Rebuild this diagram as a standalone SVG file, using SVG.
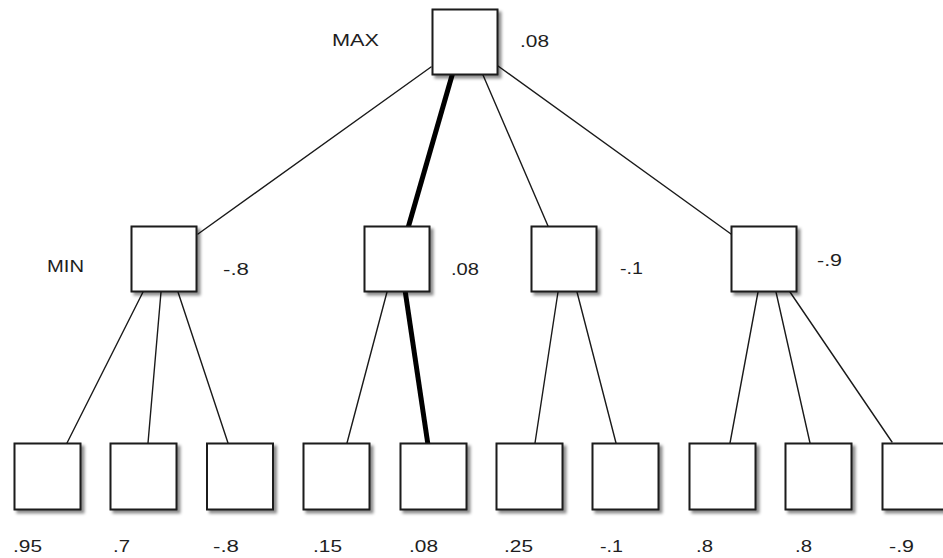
<svg xmlns="http://www.w3.org/2000/svg" width="943" height="558" viewBox="0 0 943 558">
<defs>
<filter id="sh" x="-20%" y="-20%" width="150%" height="150%">
<feDropShadow dx="3" dy="3" stdDeviation="1.8" flood-color="#000" flood-opacity="0.45"/>
</filter>
<style>
.box{fill:#fff;stroke:#1a1a1a;stroke-width:2;filter:url(#sh)}
.e{stroke:#1a1a1a;stroke-width:1.4;fill:none;stroke-linecap:round}
.b{stroke:#000;stroke-width:5;fill:none}
text{font-family:"Liberation Sans",Arial,sans-serif;font-size:17px;fill:#1e1e1e}
</style>
</defs>
<rect width="943" height="558" fill="#fff"/>
<g id="connectors">
<line class="e" x1="431" y1="67" x2="198" y2="234"/>
<line class="b" x1="453" y1="72" x2="408" y2="228"/>
<line class="e" x1="483" y1="75" x2="548" y2="226"/>
<line class="e" x1="498" y1="66" x2="731" y2="234"/>
<line class="e" x1="143" y1="292" x2="67" y2="443"/>
<line class="e" x1="161" y1="292" x2="148" y2="443"/>
<line class="e" x1="178" y1="292" x2="228" y2="443"/>
<line class="e" x1="387" y1="292" x2="347" y2="443"/>
<line class="b" x1="405" y1="290" x2="428" y2="445"/>
<line class="e" x1="558" y1="292" x2="535" y2="443"/>
<line class="e" x1="577" y1="292" x2="616" y2="443"/>
<line class="e" x1="758" y1="292" x2="730" y2="443"/>
<line class="e" x1="776" y1="292" x2="810" y2="443"/>
<line class="e" x1="790" y1="292" x2="892" y2="442"/>
</g>
<g id="root"><rect class="box" x="432.5" y="9.5" width="65" height="65"/></g>
<g id="min1"><rect class="box" x="131.5" y="226.5" width="65" height="65"/></g>
<g id="min2"><rect class="box" x="364.5" y="226.5" width="65" height="65"/></g>
<g id="min3"><rect class="box" x="531.5" y="226.5" width="65" height="65"/></g>
<g id="min4"><rect class="box" x="731.5" y="226.5" width="65" height="65"/></g>
<g id="leaf1"><rect class="box" x="14.5" y="443.5" width="66" height="66"/></g>
<g id="leaf2"><rect class="box" x="110.5" y="443.5" width="66" height="66"/></g>
<g id="leaf3"><rect class="box" x="207" y="443.5" width="66" height="66"/></g>
<g id="leaf4"><rect class="box" x="303.5" y="443.5" width="66" height="66"/></g>
<g id="leaf5"><rect class="box" x="400.5" y="443.5" width="66" height="66"/></g>
<g id="leaf6"><rect class="box" x="496.5" y="443.5" width="66" height="66"/></g>
<g id="leaf7"><rect class="box" x="592.5" y="443.5" width="66" height="66"/></g>
<g id="leaf8"><rect class="box" x="689.5" y="443.5" width="66" height="66"/></g>
<g id="leaf9"><rect class="box" x="785.5" y="443.5" width="66" height="66"/></g>
<g id="leaf10"><rect class="box" x="882.5" y="443.5" width="66" height="66"/></g>
<g id="labels">
<text x="332" y="46" textLength="47" lengthAdjust="spacingAndGlyphs">MAX</text>
<text x="520" y="47" textLength="29" lengthAdjust="spacingAndGlyphs">.08</text>
<text x="47" y="272" textLength="37" lengthAdjust="spacingAndGlyphs">MIN</text>
<text x="223" y="275" textLength="26" lengthAdjust="spacingAndGlyphs">-.8</text>
<text x="451" y="275" textLength="28" lengthAdjust="spacingAndGlyphs">.08</text>
<text x="620" y="274" textLength="23" lengthAdjust="spacingAndGlyphs">-.1</text>
<text x="817" y="266" textLength="25" lengthAdjust="spacingAndGlyphs">-.9</text>
<text x="13" y="552" textLength="29" lengthAdjust="spacingAndGlyphs">.95</text>
<text x="113" y="552" textLength="17" lengthAdjust="spacingAndGlyphs">.7</text>
<text x="213" y="552" textLength="26" lengthAdjust="spacingAndGlyphs">-.8</text>
<text x="313" y="552" textLength="29" lengthAdjust="spacingAndGlyphs">.15</text>
<text x="409" y="552" textLength="29" lengthAdjust="spacingAndGlyphs">.08</text>
<text x="504" y="552" textLength="29" lengthAdjust="spacingAndGlyphs">.25</text>
<text x="600" y="552" textLength="23" lengthAdjust="spacingAndGlyphs">-.1</text>
<text x="696" y="552" textLength="17" lengthAdjust="spacingAndGlyphs">.8</text>
<text x="795" y="552" textLength="17" lengthAdjust="spacingAndGlyphs">.8</text>
<text x="889" y="552" textLength="25" lengthAdjust="spacingAndGlyphs">-.9</text>
</g>
</svg>
